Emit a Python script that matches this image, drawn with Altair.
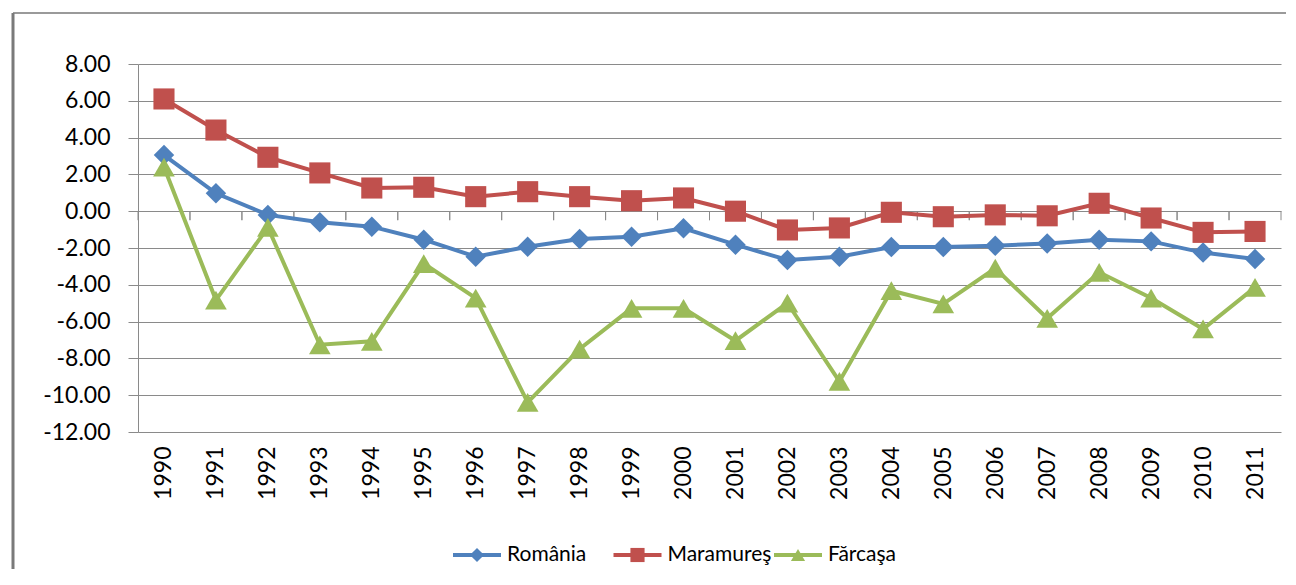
import altair as alt
import pandas as pd

# ---- data ----
years = list(range(1990, 2012))
series_names = ["România", "Maramureş", "Fărcaşa"]
romania = [3.05, 0.97, -0.20, -0.60, -0.84, -1.55, -2.47, -1.93, -1.51, -1.39, -0.93,
           -1.82, -2.65, -2.47, -1.95, -1.95, -1.88, -1.75, -1.55, -1.64, -2.25, -2.60]
maramures = [6.10, 4.41, 2.93, 2.08, 1.26, 1.30, 0.79, 1.06, 0.79, 0.57, 0.72,
             0.00, -1.02, -0.91, -0.06, -0.30, -0.20, -0.25, 0.43, -0.37, -1.15, -1.10]
farcasa = [2.40, -4.83, -0.88, -7.26, -7.07, -2.85, -4.72, -10.39, -7.49, -5.28, -5.28,
           -7.04, -4.99, -9.25, -4.32, -5.04, -3.10, -5.82, -3.32, -4.72, -6.40, -4.14]
y_ticks = [-12, -10, -8, -6, -4, -2, 0, 2, 4, 6, 8]

# ---- styles ----
colors = ["#4F81BD", "#C0504D", "#9BBB59"]
shapes = ["diamond", "square", "triangle-up"]
marker_sizes = [420, 470, 520]
grid_col = "#8a8a8a"
FONT = "Lato"

rows = []
for name, vals in zip(series_names, [romania, maramures, farcasa]):
    for yr, v in zip(years, vals):
        rows.append({"year": yr, "series": name, "value": v})
df = pd.DataFrame(rows)
years_df = pd.DataFrame({"year": years})
legend_df = pd.DataFrame({"series": series_names})
one_df = pd.DataFrame({"k": [0]})

W, H = 1143, 368

x_enc = alt.X(
    "year:Q",
    scale=alt.Scale(domain=[1989.5, 2011.5], nice=False, zero=False),
    axis=alt.Axis(values=years, tickCount=40, format="d", labelAngle=270, ticks=False,
                  domain=False, grid=False, labelPadding=14, labelFontSize=23, labelFont=FONT,
                  labelColor="black", title=None, labelOverlap=False),
)
y_enc = alt.Y(
    "value:Q",
    scale=alt.Scale(domain=[-12, 8], nice=False, zero=False),
    axis=alt.Axis(values=y_ticks, tickCount=20,
                  labelExpr="replace(format(datum.value, '.2f'), '\u2212', '-')",
                  tickSize=10, tickColor=grid_col, domainColor=grid_col, gridColor=grid_col,
                  grid=True, gridWidth=1, labelPadding=18, labelFontSize=23, labelFont=FONT,
                  labelColor="black", title=None, labelOverlap=False),
)
color_enc = alt.Color("series:N", scale=alt.Scale(domain=series_names, range=colors), legend=None)
shape_enc = alt.Shape("series:N", scale=alt.Scale(domain=series_names, range=shapes), legend=None)
size_enc = alt.Size("series:N", scale=alt.Scale(domain=series_names, range=marker_sizes), legend=None)

lines = alt.Chart(df).mark_line(strokeWidth=4).encode(x=x_enc, y=y_enc, color=color_enc)
points = alt.Chart(df).mark_point(filled=True, opacity=1).encode(
    x="year:Q", y="value:Q", color=color_enc, shape=shape_enc, size=size_enc)

# category-boundary tick marks on the zero line (Excel axis crossing at 0)
ticks_lo = alt.Chart(years_df).transform_calculate(b="datum.year - 0.5").mark_rule(
    color=grid_col, strokeWidth=1, y2Offset=9).encode(
    x=alt.X("b:Q"), y=alt.datum(0), y2=alt.datum(0))
ticks_hi = alt.Chart(years_df).transform_calculate(b="datum.year + 0.5").mark_rule(
    color=grid_col, strokeWidth=1, y2Offset=9).encode(
    x=alt.X("b:Q"), y=alt.datum(0), y2=alt.datum(0))

data_layer = alt.layer(ticks_lo, ticks_hi, lines, points)

# ---- legend drawn as marks below the plot ----
LEG_Y = 491
leg_x = alt.X("series:N", sort=series_names,
              scale=alt.Scale(type="point", range=[315, 636], padding=0), axis=None)
leg_rule = alt.Chart(legend_df).mark_rule(strokeWidth=4, x2Offset=48).encode(
    x=leg_x, x2=alt.X2("series"), y=alt.value(LEG_Y), color=color_enc)
leg_pt = alt.Chart(legend_df).mark_point(filled=True, opacity=1, xOffset=24, size=200).encode(
    x=leg_x, y=alt.value(LEG_Y), color=color_enc, shape=shape_enc)
leg_txt = alt.Chart(legend_df).mark_text(align="left", baseline="middle", dx=54,
                                         font=FONT, fontSize=21, color="black").encode(
    x=leg_x, y=alt.value(LEG_Y), text="series:N")
legend_layer = alt.layer(leg_rule, leg_pt, leg_txt)

# ---- chart frame (left and top edges of the Excel chart area) ----
frame_top = alt.Chart(one_df).mark_rule(color="#9a9a9a", strokeWidth=2).encode(
    x=alt.value(-125), x2=alt.value(1148), y=alt.value(-51))
frame_left = alt.Chart(one_df).mark_rule(color="#7a7a7a", strokeWidth=3).encode(
    x=alt.value(-125), y=alt.value(-51), y2=alt.value(505))

chart = alt.layer(data_layer, legend_layer, frame_top, frame_left).resolve_scale(
    x="independent"
).properties(
    width=W, height=H,
    padding={"left": 3, "top": 3, "right": 0, "bottom": 8},
).configure_view(strokeOpacity=0)

chart.save("out.html", embed_options={"renderer": "svg", "actions": False})
